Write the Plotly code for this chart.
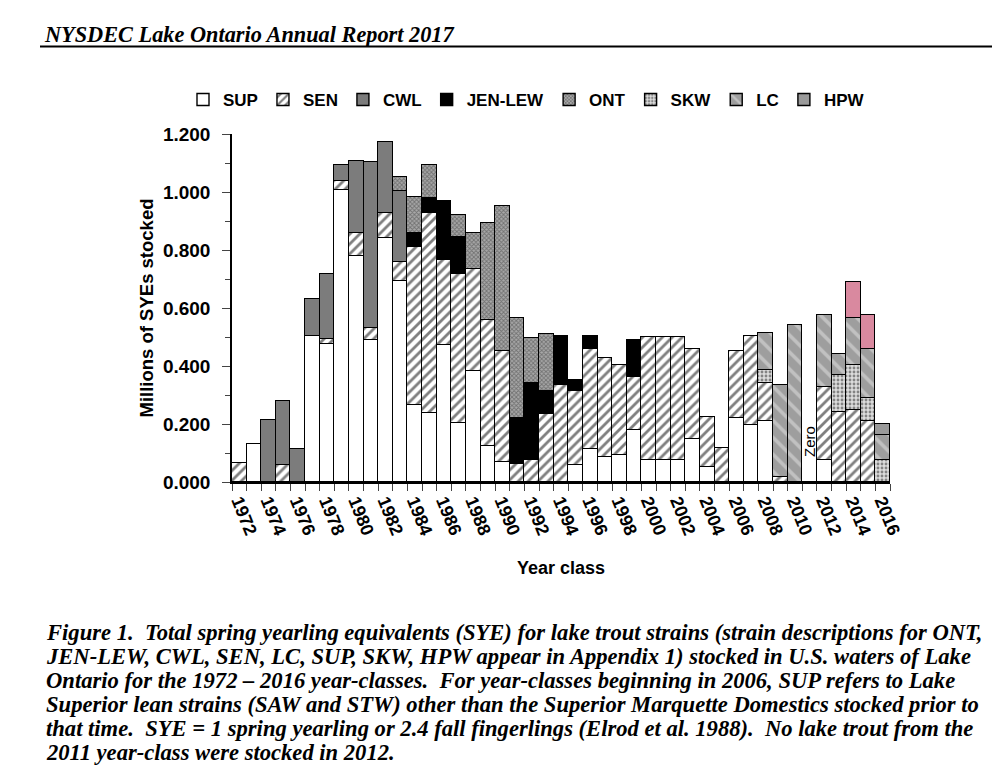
import plotly.graph_objects as go

years = [str(y) for y in range(1972, 2017)]
tick_text = [y if int(y) % 2 == 0 else "" for y in years]

# millions of SYEs per strain, year classes 1972-2016
sup = [0, 0.130, 0, 0, 0, 0.505, 0.476, 1.007, 0.779, 0.489,
       0.840, 0.694, 0.264, 0.238, 0.474, 0.205, 0.383, 0.123, 0.069, 0,
       0, 0, 0, 0.058, 0.115, 0.086, 0.092, 0.178, 0.077, 0.077,
       0.077, 0.150, 0.052, 0, 0.219, 0.198, 0.209, 0, 0, 0,
       0.075, 0, 0, 0, 0]
sen = [0.067, 0, 0, 0.058, 0, 0, 0.017, 0.032, 0.078, 0.043,
       0.086, 0.064, 0.547, 0.691, 0.291, 0.512, 0.350, 0.437, 0.382, 0.063,
       0.075, 0.234, 0.334, 0.255, 0.345, 0.340, 0.311, 0.184, 0.423, 0.423,
       0.423, 0.307, 0.172, 0.117, 0.233, 0.305, 0.133, 0.018, 0, 0,
       0.251, 0.242, 0.247, 0.211, 0]
cwl = [0, 0, 0.215, 0.220, 0.115, 0.126, 0.225, 0.054, 0.251, 0.570,
       0.248, 0.245, 0, 0, 0, 0, 0, 0, 0, 0,
       0, 0, 0, 0, 0, 0, 0, 0, 0, 0,
       0, 0, 0, 0, 0, 0, 0, 0, 0, 0,
       0, 0, 0, 0, 0]
jen_lew = [0, 0, 0, 0, 0, 0, 0, 0, 0, 0,
           0, 0, 0.049, 0.049, 0.205, 0.129, 0, 0, 0, 0.158,
           0.267, 0.079, 0.169, 0.038, 0.043, 0, 0, 0.129, 0, 0,
           0, 0, 0, 0, 0, 0, 0, 0, 0, 0,
           0, 0, 0, 0, 0]
ont = [0, 0, 0, 0, 0, 0, 0, 0, 0, 0,
       0, 0.048, 0.124, 0.115, 0, 0.075, 0.124, 0.334, 0.501, 0.345,
       0.155, 0.196, 0, 0, 0, 0, 0, 0, 0, 0,
       0, 0, 0, 0, 0, 0, 0, 0, 0, 0,
       0, 0, 0, 0, 0]
skw = [0] * 36 + [0.043, 0, 0, 0, 0, 0.126, 0.156, 0.080, 0.077]
lc = [0] * 36 + [0.129, 0.316, 0.541, 0, 0.249, 0.075, 0.163, 0.167, 0.084]
hpw = [0] * 42 + [0.124, 0.117, 0.040]
hpw_colors = ["#d9899f" if y in ("2014", "2015") else "#9a9a9a" for y in years]

# the page body adds an 8px margin, so work in page pixels and shift
OFF = 8
W, H = 1000 - OFF, 768 - OFF
L, R, T, B = 232 - OFF, 890 - OFF, 134 - OFF, 482 - OFF


def px(x):
    return (x - OFF - L) / (R - L)


def py(y):
    return (B - (y - OFF)) / (B - T)


line = dict(color="black", width=1.4)
styles = {
    "SUP": dict(color="white", line=line),
    "SEN": dict(color="white", line=line,
                pattern=dict(shape="/", fgcolor="black", size=7, solidity=0.4)),
    "CWL": dict(color="#7c7c7c", line=line),
    "JEN-LEW": dict(color="black", line=line),
    "ONT": dict(color="#a8a8a8", line=line,
                pattern=dict(shape="x", fgcolor="#3a3a3a", size=3, solidity=0.5)),
    "SKW": dict(color="#dcdcdc", line=line,
                pattern=dict(shape=".", fgcolor="#2a2a2a", size=4, solidity=0.4)),
    "LC": dict(color="#9e9e9e", line=line,
               pattern=dict(shape="\\", fgcolor="#e4e4e4", size=12, solidity=0.3)),
    "HPW": dict(color=hpw_colors, line=line),
}
series = [("SUP", sup), ("SEN", sen), ("CWL", cwl), ("JEN-LEW", jen_lew),
          ("ONT", ont), ("SKW", skw), ("LC", lc), ("HPW", hpw)]

fig = go.Figure()
for name, vals in series:
    fig.add_trace(go.Bar(x=years, y=vals, name=name, marker=styles[name]))

fig.update_layout(
    barmode="stack",
    bargap=0,
    width=W,
    height=H,
    margin=dict(l=L, r=W - R, t=T, b=H - B),
    paper_bgcolor="white",
    plot_bgcolor="white",
    font=dict(family="Liberation Sans, Arial", size=17, color="black"),
    legend=dict(
        orientation="h",
        x=px(183), y=py(100), xanchor="left", yanchor="middle",
        font=dict(size=17, weight="bold"),
        traceorder="normal",
        itemwidth=30,
    ),
)
fig.update_xaxes(
    type="category",
    range=[-0.5, len(years) - 0.5],
    tickmode="array",
    tickvals=years,
    ticktext=tick_text,
    tickson="boundaries",
    ticks="outside",
    ticklen=7,
    tickangle=68,
    tickfont=dict(size=18, weight="bold"),
    showline=True,
    linecolor="black",
    linewidth=1.5,
    showgrid=False,
    title=dict(text="Year class", font=dict(size=18, weight="bold"), standoff=24),
)
fig.update_yaxes(
    range=[0, 1.2],
    dtick=0.2,
    tickformat=".3f",
    ticks="outside",
    ticklen=8,
    ticklabelstandoff=8,
    minor=dict(dtick=0.1, ticks="outside", ticklen=5, showgrid=False),
    tickfont=dict(size=19, weight="bold"),
    showline=True,
    linecolor="black",
    linewidth=1.5,
    showgrid=False,
    zeroline=False,
    title=dict(text="Millions of SYEs stocked", font=dict(size=18.5, weight="bold"), standoff=4),
)

# 2011 year class: nothing stocked (category index 39)
fig.add_annotation(x=years.index("2011"), y=0.14, text="Zero", textangle=-90,
                   showarrow=False, font=dict(size=15, family="Liberation Sans"))

# page header
fig.add_annotation(xref="paper", yref="paper", x=px(42), y=py(34),
                   xanchor="left", yanchor="middle", showarrow=False,
                   text="<b><i>NYSDEC Lake Ontario Annual Report 2017</i></b>",
                   font=dict(family="Liberation Serif", size=22.3))
fig.add_shape(type="line", xref="paper", yref="paper",
              x0=px(40), x1=px(1000), y0=py(46.5), y1=py(46.5),
              line=dict(color="black", width=2))

caption = [
    "Figure 1.  Total spring yearling equivalents (SYE) for lake trout strains (strain descriptions for ONT,",
    "JEN-LEW, CWL, SEN, LC, SUP, SKW, HPW appear in Appendix 1) stocked in U.S. waters of Lake",
    "Ontario for the 1972 \u2013 2016 year-classes.  For year-classes beginning in 2006, SUP refers to Lake",
    "Superior lean strains (SAW and STW) other than the Superior Marquette Domestics stocked prior to",
    "that time.  SYE = 1 spring yearling or 2.4 fall fingerlings (Elrod et al. 1988).  No lake trout from the",
    "2011 year-class were stocked in 2012.",
]
for i, txt in enumerate(caption):
    fig.add_annotation(xref="paper", yref="paper", x=px(44), y=py(632 + 24 * i),
                       xanchor="left", yanchor="middle", showarrow=False,
                       text="<b><i>" + txt + "</i></b>",
                       font=dict(family="Liberation Serif", size=22.6))

fig.write_html("out.html")
